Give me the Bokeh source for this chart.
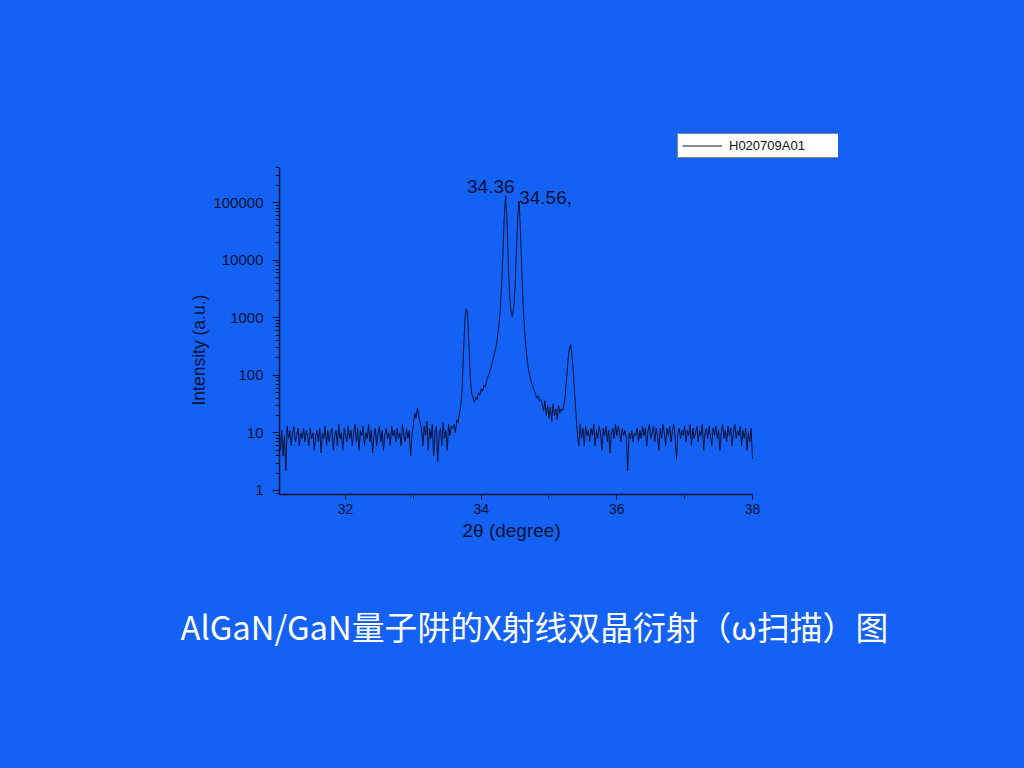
import numpy as np
from bokeh.plotting import figure
from bokeh.models import (ColumnDataSource, FixedTicker, NumeralTickFormatter,
                          Legend, LegendItem, Title, Range1d)
from bokeh.core.properties import value
from bokeh.embed import file_html
from bokeh.resources import INLINE

# ---------------- data ----------------
series_name = "H020709A01"
two_theta_start = 31.0
two_theta_step = 0.02
intensity = [
    7, 12, 5, 11, 4, 9, 2.2, 13, 8, 11,            # 31.00
    6, 10, 13, 7, 9, 12, 6, 10, 8, 12,             # 31.20
    7, 11, 9, 6, 12, 8, 10, 5, 9, 11,              # 31.40
    7, 12, 4.5, 10, 8, 13, 6, 11, 7, 10,           # 31.60
    12, 5, 9, 11, 6, 14, 8, 10, 5, 12,             # 31.80
    9, 7, 13, 8, 11, 6, 10, 14, 7, 12,             # 32.00
    5, 11, 9, 13, 6, 10, 8, 14, 7, 11,             # 32.20
    4.5, 9, 12, 6, 10, 13, 7, 11, 5, 9,            # 32.40
    12, 8, 10, 6, 13, 9, 11, 7, 12, 8,             # 32.60
    10, 6, 14, 9, 7, 12, 8, 11, 4, 9,              # 32.80
    14, 22, 18, 27, 20, 15, 12, 6, 13, 9,          # 33.00
    16, 5, 12, 8, 14, 4, 10, 13, 3.2, 9,           # 33.20
    12, 6, 15, 8, 11, 5, 14, 9, 13, 12,            # 33.40
    14, 10, 17, 15, 22, 30, 60, 250, 900, 1450,    # 33.60
    1200, 350, 90, 48, 40, 34, 42, 38, 50, 45,     # 33.80
    58, 52, 68, 62, 80, 95, 110, 130, 160, 200,    # 34.00
    250, 320, 450, 700, 1300, 3500, 12000, 55000, 130000, 50000,   # 34.20
    9000, 2500, 1300, 1050, 1500, 3500, 15000, 60000, 105000, 30000,  # 34.40
    6000, 1500, 600, 300, 180, 120, 95, 75, 65, 55,  # 34.60
    48, 40, 44, 36, 38, 32, 24, 36, 20, 30,        # 34.80
    18, 28, 16, 32, 20, 26, 17, 30, 22, 26,        # 35.00
    24, 30, 45, 90, 180, 290, 340, 220, 110, 45,   # 35.20
    20, 9, 6, 14, 8, 12, 6, 13, 9, 11,             # 35.40
    7, 12, 9, 14, 6, 11, 8, 13, 10, 5,             # 35.60
    12, 9, 13, 7, 11, 4.5, 10, 12, 8, 14,          # 35.80
    9, 13, 10, 7, 12, 9, 11, 8, 2.2, 10,           # 36.00
    8, 11, 7, 10, 9, 12, 7, 11, 8, 13,             # 36.20
    9, 12, 6, 11, 14, 8, 10, 13, 7, 12,            # 36.40
    9, 5, 12, 8, 14, 10, 6, 12, 9, 13,             # 36.60
    7, 11, 14, 8, 3.5, 10, 12, 8, 11, 9,           # 36.80
    13, 7, 11, 9, 14, 6, 12, 8, 10, 13,            # 37.00
    7, 11, 9, 14, 5, 10, 12, 8, 13, 9,             # 37.20
    6, 12, 9, 13, 8, 11, 5, 10, 14, 8,             # 37.40
    11, 7, 13, 9, 12, 6, 10, 14, 8, 11,            # 37.60
    9, 13, 6, 11, 8, 12, 5, 10, 7, 12,             # 37.80
    3.5,                                           # 38.00
]
two_theta = [round(two_theta_start + two_theta_step * i, 2) for i in range(len(intensity))]

peak_x = [34.36, 34.56]
peak_y = [130000, 105000]
peak_labels = ["34.36", "34.56,"]

x_major_ticks = [32, 34, 36, 38]
x_minor_ticks = [31, 33, 35, 37]
y_major_ticks = [1, 10, 100, 1000, 10000, 100000]

title_text = "AlGaN/GaN量子阱的X射线双晶衍射（ω扫描）图"
x_label = "2θ (degree)"
y_label = "Intensity (a.u.)"

# ---------------- style ----------------
BG = "#1461F6"
INK = "#0b1233"
FONT = "Liberation Sans"

X_AXIS = (31.027, 38.0)
Y_AXIS = (0.852, 405000)

y_minor = [m * 10 ** d for d in range(-1, 6) for m in range(2, 10)]
y_minor = [v for v in y_minor if Y_AXIS[0] <= v <= Y_AXIS[1]]

# frame extends to the right/top so the legend box can sit inside it
p = figure(frame_width=559, frame_height=364,
           min_border_left=279, min_border_right=184,
           min_border_top=130, min_border_bottom=272,
           x_range=Range1d(X_AXIS[0], 39.268), y_range=Range1d(Y_AXIS[0], 1.78e6),
           y_axis_type="log", output_backend="svg", toolbar_location=None,
           background_fill_color=BG, border_fill_color=BG)
p.outline_line_color = None
p.grid.visible = False

src = ColumnDataSource(dict(x=two_theta, y=intensity))
r = p.line("x", "y", source=src, line_color=INK, line_width=1)

psrc = ColumnDataSource(dict(x=peak_x, y=peak_y, t=peak_labels,
                             xo=[9, 0], yo=[-9, -4], al=["right", "left"]))
p.text("x", "y", text="t", source=psrc, x_offset="xo", y_offset="yo",
       text_align="al", text_baseline="middle", text_color=INK,
       text_font=value(FONT), text_font_size="19px")

# axes
xa = p.xaxis[0]
xa.ticker = FixedTicker(ticks=x_major_ticks, minor_ticks=x_minor_ticks)
xa.bounds = X_AXIS
ya = p.yaxis[0]
ya.ticker = FixedTicker(ticks=y_major_ticks, minor_ticks=y_minor)
ya.formatter = NumeralTickFormatter(format="0")
ya.bounds = Y_AXIS
for ax in (xa, ya):
    ax.axis_line_color = INK
    ax.axis_line_width = 1.5
    ax.major_tick_line_color = INK
    ax.minor_tick_line_color = INK
    ax.major_tick_in = 0
    ax.minor_tick_in = 0
    ax.major_label_text_color = INK
    ax.major_label_text_font = FONT
    ax.major_label_text_font_size = "15px"
xa.major_tick_out = 5
xa.minor_tick_out = 4
xa.major_label_standoff = 4
xa.major_label_text_font_size = "14px"
ya.major_tick_out = 7
ya.minor_tick_out = 4
ya.major_label_standoff = 9

# axis titles placed against the drawn axis extent (frame is larger than axes)
p.add_layout(Title(text=x_label, align="left", offset=183, standoff=2,
                   text_color=INK, text_font=FONT, text_font_size="19px",
                   text_font_style="normal"), "below")
p.add_layout(Title(text=y_label, align="left", offset=89, standoff=4,
                   text_color=INK, text_font=FONT, text_font_size="17.5px",
                   text_font_style="normal"), "left")

# legend
legend = Legend(items=[LegendItem(label=series_name, renderers=[r])],
                location=(398, 336), orientation="vertical",
                padding=4, spacing=0, margin=0,
                glyph_width=40, glyph_height=13, label_height=13,
                label_standoff=7, label_width=106,
                label_text_font=FONT, label_text_font_size="13px",
                label_text_color="#111111",
                background_fill_color="white", background_fill_alpha=1,
                border_line_color="#111111", border_line_width=1)
p.add_layout(legend, "center")

# chart title below the plot
p.add_layout(Title(text=title_text, align="left", offset=-99, standoff=116,
                   text_color="white", text_font="Noto Sans CJK SC",
                   text_font_size="32.8px", text_font_style="normal"), "below")

html = file_html(p, INLINE, title="XRD")
html = html.replace("<head>", "<head><style>html, body {background-color: " + BG + ";}</style>", 1)
open("out.html", "w").write(html)
